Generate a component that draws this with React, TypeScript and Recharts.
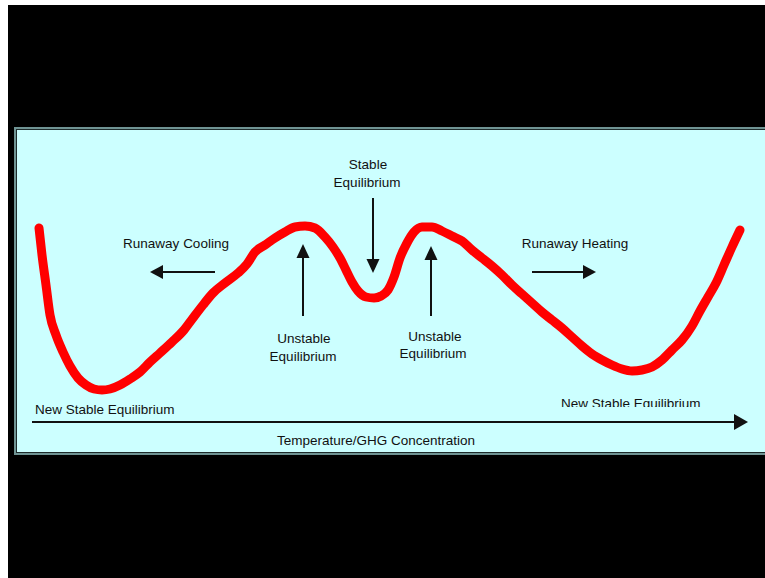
import React from 'react';
import { LineChart, Line, XAxis, YAxis, ReferenceLine, ReferenceDot } from 'recharts';

// temperature / GHG concentration (arbitrary units)
const temperature = [
  3.5, 5, 7, 9, 12, 15.5, 19, 23, 27, 31, 35, 39, 44, 49, 54, 59, 64, 70, 76, 80.5,
  85.5, 90.5, 96.5, 103, 107.5, 111.5, 116.5, 121.5, 126.5, 131.5, 136.5, 141.5, 146.5,
  150.5, 154, 157, 160, 163, 167, 171, 174.5, 178, 181, 184, 187.5, 191, 195, 200, 205,
  210, 215, 220, 225, 230, 235, 240, 245, 250, 255, 260, 265, 270, 275, 280, 285, 290,
  295, 300, 305, 310, 315, 320, 325, 330, 334, 338, 342, 346, 350, 354,
];

// system "potential" at each temperature
const potential = [
  97, 83.5, 68.5, 53.5, 43.5, 35, 28, 22, 18.5, 16.5, 16, 16.5, 18.5, 21.5, 25, 30, 34.5,
  40, 46, 52, 58.5, 64.5, 69.5, 74.5, 79, 85, 88.5, 92, 95, 97.5, 98, 97, 92.5, 87.5, 82,
  76, 70, 65.5, 62.5, 62, 63, 66, 72.5, 82, 89.5, 95, 97.5, 97.5, 95.5, 93, 90.5, 86, 82,
  78, 73.5, 68.5, 64, 59.5, 55, 51, 47, 42.5, 38, 34, 31, 28.5, 26.5, 25.5, 26, 27.5, 31,
  36, 41, 48, 55.5, 62.5, 69.5, 78.5, 87.5, 96,
];

// annotation labels: text, x, y, anchor, clipped at bottom
const labels: [string, number, number, string, boolean][] = [
  ['Stable', 168, 129, 'middle', false],
  ['Equilibrium', 167.5, 120, 'middle', false],
  ['Runaway Cooling', 72, 89.5, 'middle', false],
  ['Runaway Heating', 271.5, 89.5, 'middle', false],
  ['Unstable', 136, 42, 'middle', false],
  ['Equilibrium', 135.5, 33, 'middle', false],
  ['Unstable', 201.5, 43, 'middle', false],
  ['Equilibrium', 200.5, 34.5, 'middle', false],
  ['New Stable Equilibrium', 1.5, 6.5, 'start', false],
  ['New Stable Equilibrium', 264.5, 9.5, 'start', true],
  ['Temperature/GHG Concentration', 172, -9, 'middle', false],
];

// arrows: from [x, y] to [x, y], head length, head half-width
const arrows: [number, number, number, number, number, number][] = [
  [0, 0, 358, 0, 14, 8],
  [91.5, 75, 59, 75, 13, 7],
  [250, 75, 282, 75, 13, 7],
  [170.5, 112, 170.5, 74.5, 14, 6.5],
  [135.5, 53, 135.5, 89, 14, 6.5],
  [199.5, 53, 199.5, 88, 14, 6.5],
];

const data = temperature.map((t, i) => ({ t, v: potential[i] }));

const INK = '#111111';

const arrowShape = (len: number, half: number) => (p: any) => {
  const { x1, y1, x2, y2 } = p;
  const dx = x2 - x1;
  const dy = y2 - y1;
  const d = Math.sqrt(dx * dx + dy * dy) || 1;
  const ux = dx / d;
  const uy = dy / d;
  const bx = x2 - ux * len;
  const by = y2 - uy * len;
  const pts = `${x2},${y2} ${bx - uy * half},${by + ux * half} ${bx + uy * half},${by - ux * half}`;
  return (
    <g>
      <line x1={x1} y1={y1} x2={bx} y2={by} stroke={INK} strokeWidth={2} />
      <polygon points={pts} fill={INK} />
    </g>
  );
};

const labelShape = (text: string, anchor: string, clipped: boolean, idx: number) => (p: any) => {
  const id = `label-clip-${idx}`;
  return (
    <g>
      {clipped && (
        <defs>
          <clipPath id={id}>
            <rect x={p.cx - 10} y={p.cy - 20} width={200} height={24} />
          </clipPath>
        </defs>
      )}
      <text
        x={p.cx}
        y={p.cy}
        dy="0.35em"
        textAnchor={anchor as any}
        fontFamily="'Liberation Sans', Arial, sans-serif"
        fontSize={13.5}
        fill={INK}
        clipPath={clipped ? `url(#${id})` : undefined}
      >
        {text}
      </text>
    </g>
  );
};

export default function App() {
  return (
    <div style={{ position: 'absolute', left: 0, top: 0, width: 765, height: 578, background: '#fff', overflow: 'hidden' }}>
      <div style={{ position: 'absolute', left: 8, top: 5, width: 757, height: 573, background: '#000' }} />
      <div
        style={{
          position: 'absolute',
          left: 14,
          top: 127,
          width: 760,
          height: 328,
          boxSizing: 'border-box',
          background: '#ccffff',
          border: '2px solid #6f9393',
          boxShadow: 'inset 1px 1px 0 #1d2b2b, inset -1px -1px 0 #1d2b2b',
        }}
      />
      <div style={{ position: 'absolute', left: 14, top: 127 }}>
        <LineChart width={751} height={328} data={data} margin={{ top: 95, right: 17, bottom: 33, left: 18 }}>
          <XAxis type="number" dataKey="t" domain={[0, 358]} hide />
          <YAxis type="number" domain={[0, 100]} hide width={0} />
          <Line
            type="monotone"
            dataKey="v"
            stroke="#ff0000"
            strokeWidth={9}
            strokeLinecap="round"
            strokeLinejoin="round"
            dot={false}
            activeDot={false}
            isAnimationActive={false}
          />
          {arrows.map((a, i) => (
            <ReferenceLine
              key={`arrow-${i}`}
              segment={[{ x: a[0], y: a[1] }, { x: a[2], y: a[3] }]}
              ifOverflow="visible"
              shape={arrowShape(a[4], a[5])}
            />
          ))}
          {labels.map((l, i) => (
            <ReferenceDot
              key={`label-${i}`}
              x={l[1]}
              y={l[2]}
              r={0}
              ifOverflow="visible"
              shape={labelShape(l[0], l[3], l[4], i)}
            />
          ))}
        </LineChart>
      </div>
    </div>
  );
}
